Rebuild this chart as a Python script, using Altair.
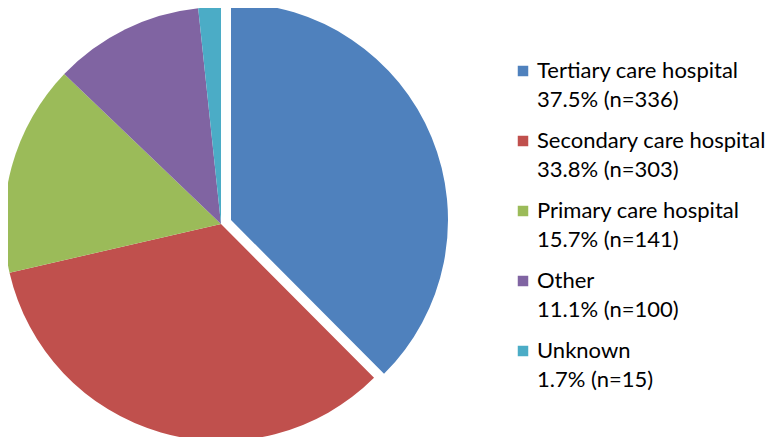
import altair as alt
import pandas as pd

categories = ["Tertiary care hospital", "Secondary care hospital", "Primary care hospital", "Other", "Unknown"]
counts = [336, 303, 141, 100, 15]
percents = ["37.5%", "33.8%", "15.7%", "11.1%", "1.7%"]
colors = ["#4F81BD", "#C0504D", "#9BBB59", "#8064A2", "#4BACC6"]

df = pd.DataFrame({
    "category": categories,
    "n": counts,
    "idx": list(range(len(categories))),
    "detail": [f"{p} (n={c})" for p, c in zip(percents, counts)],
})

color_scale = alt.Scale(domain=categories, range=colors)
R = 217
cx, cy = 213, 216
ox, oy = 10, -4

base = alt.Chart(df)

pie_rest = base.mark_arc(outerRadius=R, stroke=None).encode(
    theta=alt.Theta("n:Q", stack=True),
    order=alt.Order("idx:Q"),
    color=alt.Color("category:N", scale=color_scale, legend=None),
    opacity=alt.condition(alt.datum.idx == 0, alt.value(0), alt.value(1)),
    x=alt.value(cx),
    y=alt.value(cy),
)

pie_explode = base.mark_arc(outerRadius=R, stroke=None).encode(
    theta=alt.Theta("n:Q", stack=True),
    order=alt.Order("idx:Q"),
    color=alt.Color("category:N", scale=color_scale, legend=None),
    opacity=alt.condition(alt.datum.idx == 0, alt.value(1), alt.value(0)),
    x=alt.value(cx + ox),
    y=alt.value(cy + oy),
)

yscale = alt.Scale(domain=[0, 4], range=[63, 343])

squares = base.mark_square(size=110, opacity=1).encode(
    x=alt.value(515),
    y=alt.Y("idx:Q", scale=yscale, axis=None),
    color=alt.Color("category:N", scale=color_scale, legend=None),
)

font = "Lato"
fsize = 22
name_text = base.mark_text(align="left", baseline="middle", font=font, fontSize=fsize, color="#000000").encode(
    x=alt.value(529),
    y=alt.Y("idx:Q", scale=yscale, axis=None),
    text="category:N",
)
detail_text = base.mark_text(align="left", baseline="middle", font=font, fontSize=fsize, color="#000000", yOffset=29).encode(
    x=alt.value(529),
    y=alt.Y("idx:Q", scale=yscale, axis=None),
    text="detail:N",
)

chart = alt.layer(pie_rest, pie_explode, squares, name_text, detail_text).properties(
    width=760, height=429, padding=0, autosize=alt.AutoSizeParams(type="none")
).configure_view(stroke=None)

chart.save("out.html", embed_options={"renderer": "svg", "actions": False})
